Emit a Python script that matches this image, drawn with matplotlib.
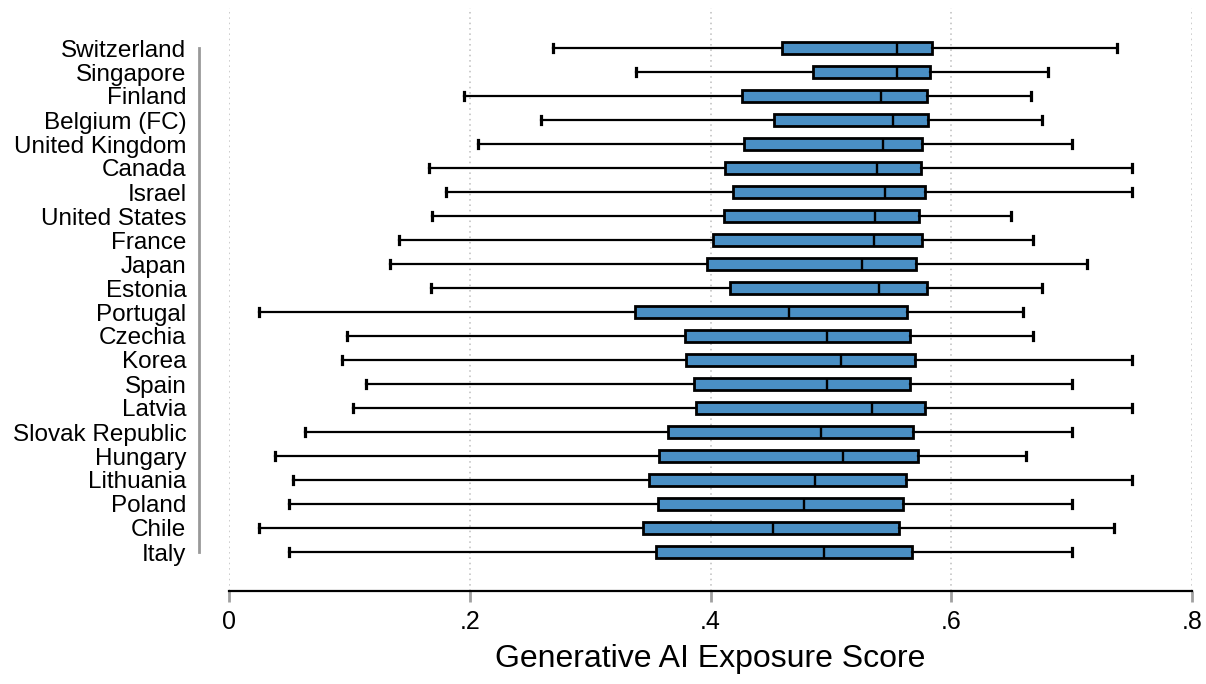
import matplotlib.pyplot as plt
import numpy as np

# --- DATOS ---
paises = ['Switzerland', 'Singapore', 'Finland', 'Belgium (FC)', 'United Kingdom',
          'Canada', 'Israel', 'United States', 'France', 'Japan', 'Estonia',
          'Portugal', 'Czechia', 'Korea', 'Spain', 'Latvia', 'Slovak Republic',
          'Hungary', 'Lithuania', 'Poland', 'Chile', 'Italy']

bigote_inf = [0.269, 0.338, 0.195, 0.259, 0.207, 0.166, 0.180, 0.169, 0.141, 0.134, 0.168,
              0.025, 0.098, 0.094, 0.114, 0.103, 0.063, 0.038, 0.053, 0.050, 0.025, 0.050]
q1 = [0.459, 0.485, 0.426, 0.453, 0.428, 0.412, 0.419, 0.411, 0.402, 0.397, 0.416,
      0.337, 0.379, 0.380, 0.386, 0.388, 0.365, 0.357, 0.349, 0.356, 0.344, 0.355]
mediana = [0.555, 0.555, 0.542, 0.552, 0.543, 0.538, 0.545, 0.537, 0.536, 0.526, 0.540,
           0.465, 0.497, 0.508, 0.497, 0.534, 0.492, 0.510, 0.487, 0.478, 0.452, 0.494]
q3 = [0.584, 0.582, 0.580, 0.581, 0.576, 0.575, 0.578, 0.573, 0.576, 0.571, 0.580,
      0.563, 0.566, 0.570, 0.566, 0.578, 0.568, 0.572, 0.562, 0.560, 0.557, 0.567]
bigote_sup = [0.738, 0.680, 0.666, 0.675, 0.700, 0.750, 0.750, 0.650, 0.668, 0.713, 0.675,
              0.660, 0.668, 0.750, 0.700, 0.750, 0.700, 0.662, 0.750, 0.700, 0.735, 0.700]

ticks_x = [0, 0.2, 0.4, 0.6, 0.8]
etiquetas_x = ['0', '.2', '.4', '.6', '.8']

plt.rcParams['font.family'] = ['Liberation Sans Narrow', 'Liberation Sans', 'DejaVu Sans']

n = len(paises)
posiciones = np.arange(n, 0, -1)  # Switzerland arriba, Italy abajo

stats = []
for i in range(n):
    stats.append({'label': paises[i], 'whislo': bigote_inf[i], 'q1': q1[i],
                  'med': mediana[i], 'q3': q3[i], 'whishi': bigote_sup[i], 'fliers': []})

fig = plt.figure(figsize=(12.06, 6.84), dpi=100)
ax = fig.add_axes([229 / 1206, 93 / 684, (1192 - 229) / 1206, (591 - 8) / 684])

ax.bxp(stats, positions=posiciones, vert=False, widths=0.5, patch_artist=True,
       showfliers=False, capwidths=0.35,
       boxprops=dict(facecolor='#4a8fc4', edgecolor='black', linewidth=2.0),
       medianprops=dict(color='black', linewidth=1.7),
       whiskerprops=dict(color='black', linewidth=1.6),
       capprops=dict(color='black', linewidth=2.3))

ax.set_xlim(0, 0.8)
ax.set_ylim(1 - 39 / 24, n + 40 / 24)

# rejilla vertical punteada
for t in ticks_x:
    ax.axvline(t, color='#bdbdbd', linestyle=(0, (1, 2.5)), linewidth=1.1, zorder=0)

ax.set_xticks(ticks_x)
ax.set_xticklabels(etiquetas_x)
ax.tick_params(axis='x', length=8, width=2, color='#a0a0a0', pad=6, labelsize=18)

ax.set_yticks(posiciones)
ax.set_yticklabels(paises)
ax.tick_params(axis='y', length=0, pad=9, labelsize=17.5)

ax.spines['top'].set_visible(False)
ax.spines['right'].set_visible(False)
ax.spines['bottom'].set_linewidth(1.6)
ax.spines['left'].set_position(('outward', 21.6))
ax.spines['left'].set_bounds(1, n)
ax.spines['left'].set_color('#999999')
ax.spines['left'].set_linewidth(2)

ax.set_xlabel('Generative AI Exposure Score', fontsize=23, labelpad=7)

fig.savefig('out.png', dpi=100)
